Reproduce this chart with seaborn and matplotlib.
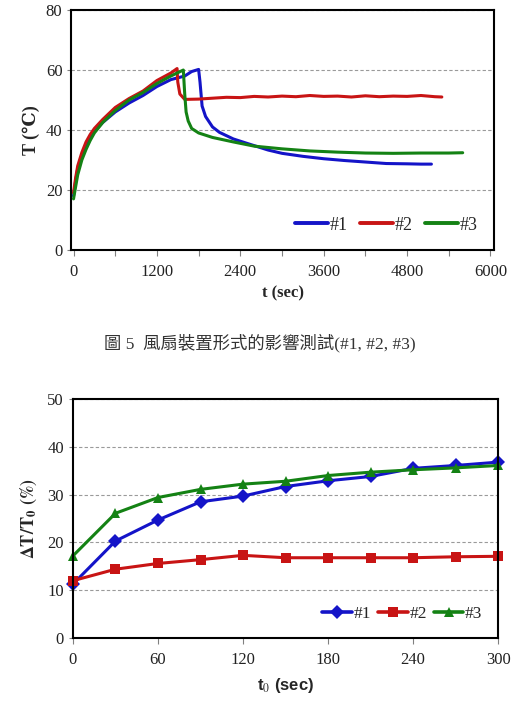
import numpy as np
import pandas as pd
import matplotlib
matplotlib.use("Agg")
import matplotlib.pyplot as plt
import seaborn as sns

# -----------------------------
# Data: top chart (temperature vs time)
# -----------------------------
t1 = [0, 30, 60, 120, 180, 240, 300, 420, 600, 800, 1000, 1200, 1400, 1600, 1700, 1800,
      1820, 1850, 1900, 2000, 2100, 2300, 2500, 2800, 3000, 3300, 3600, 3900, 4200, 4500, 4800, 5000, 5150]
T1 = [18, 23, 27, 31, 34.5, 37.5, 39.5, 42.5, 46, 49, 51.5, 54.5, 56.8, 58, 59.5, 60.2,
      56, 48, 44.5, 41, 39.2, 37, 35.5, 33.3, 32.2, 31.2, 30.4, 29.8, 29.3, 28.8, 28.7, 28.6, 28.6]

t2 = [0, 30, 60, 120, 180, 240, 300, 420, 600, 800, 1000, 1200, 1400, 1490, 1500, 1530, 1600,
      1800, 2000, 2200, 2400, 2600, 2800, 3000, 3200, 3400, 3600, 3800, 4000, 4200, 4400, 4600,
      4800, 5000, 5200, 5300]
T2 = [19, 24, 28, 32.5, 36, 38.5, 40.5, 43.5, 47.5, 50.5, 53, 56.5, 59, 60.5, 56, 52, 50.2,
      50.3, 50.6, 50.9, 50.8, 51.2, 51.0, 51.3, 51.1, 51.5, 51.2, 51.3, 51.0, 51.4, 51.1, 51.3,
      51.2, 51.5, 51.1, 51.0]

t3 = [0, 30, 60, 120, 180, 240, 300, 420, 600, 800, 1000, 1200, 1400, 1580, 1600, 1620, 1650,
      1700, 1800, 2000, 2300, 2600, 3000, 3400, 3800, 4200, 4600, 5000, 5400, 5600]
T3 = [17, 21, 25, 30, 33.5, 36.5, 39, 42.5, 46.5, 50, 52.5, 55.5, 58, 60, 52, 46, 43,
      40.5, 39, 37.5, 36, 34.6, 33.7, 33, 32.6, 32.3, 32.2, 32.3, 32.3, 32.4]

# -----------------------------
# Data: bottom chart (dT/T0 vs t0)
# -----------------------------
t0 = [0, 30, 60, 90, 120, 150, 180, 210, 240, 270, 300]
r1 = [11.3, 20.3, 24.7, 28.5, 29.7, 31.7, 32.9, 33.8, 35.5, 36.1, 36.8]
r2 = [12.0, 14.4, 15.6, 16.4, 17.3, 16.8, 16.8, 16.8, 16.8, 17.0, 17.1]
r3 = [17.2, 26.1, 29.4, 31.1, 32.2, 32.8, 34.0, 34.7, 35.2, 35.6, 36.1]

labels = ["#1", "#2", "#3"]
colors = {"#1": "#1414C8", "#2": "#C81414", "#3": "#148214"}

sns.set_theme(style="white")
plt.rcParams['font.family'] = ['Liberation Serif', 'DejaVu Serif', 'Noto Sans CJK TC']
plt.rcParams['mathtext.fontset'] = 'stix'

df_top = pd.concat([
    pd.DataFrame({"t": t1, "T": T1, "run": "#1"}),
    pd.DataFrame({"t": t2, "T": T2, "run": "#2"}),
    pd.DataFrame({"t": t3, "T": T3, "run": "#3"}),
])
df_bot = pd.concat([
    pd.DataFrame({"t0": t0, "r": r1, "run": "#1"}),
    pd.DataFrame({"t0": t0, "r": r2, "run": "#2"}),
    pd.DataFrame({"t0": t0, "r": r3, "run": "#3"}),
])

fig = plt.figure(figsize=(5.14, 7.22), dpi=100)
ax1 = fig.add_axes([0.139, 0.654, 0.822, 0.332])
ax2 = fig.add_axes([0.142, 0.1163, 0.827, 0.331])


def style_axes(ax):
    for s in ax.spines.values():
        s.set_color("black")
        s.set_linewidth(1.5)
    ax.yaxis.grid(True, linestyle=(0, (3, 2)), color="#9a9a9a", linewidth=0.8)
    ax.tick_params(axis="both", which="both", direction="out", colors="#808080",
                   labelcolor="#222222", labelsize=12)
    ax.tick_params(axis="x", which="both", length=4, width=0.8, pad=6, bottom=True)
    ax.tick_params(axis="y", length=3, width=0.8, left=True)


# -----------------------------
# Top chart
# -----------------------------
sns.lineplot(data=df_top, x="t", y="T", hue="run", palette=colors, linewidth=2.2,
             sort=False, estimator=None, ax=ax1)
ax1.set_xlim(-30, 6050)
ax1.set_ylim(0, 80)
ax1.set_xticks(np.arange(0, 6001, 1200))
ax1.set_xticks(np.arange(0, 6001, 600), minor=True)
ax1.set_yticks([0, 20, 40, 60, 80])
style_axes(ax1)
ax1.set_xlabel("t (sec)", fontsize=12, fontweight="bold", labelpad=4)
ax1.set_ylabel("T (℃)", fontsize=13, fontweight="bold", labelpad=4)
leg1 = ax1.legend(loc="lower right", ncol=3, frameon=False, fontsize=13, handlelength=1.8,
                  columnspacing=0.7, handletextpad=0.1, bbox_to_anchor=(1.0, 0.0))
for h in leg1.get_lines():
    h.set_linewidth(2.8)

fig.text(0.505, 0.525, "圖 5  風扇裝置形式的影響測試(#1, #2, #3)", ha="center", va="center",
         fontsize=12.5, color="#333333",
         family=['Liberation Serif', 'Noto Sans CJK TC'])

# -----------------------------
# Bottom chart
# -----------------------------
sns.lineplot(data=df_bot, x="t0", y="r", hue="run", style="run", palette=colors,
             markers={"#1": "D", "#2": "s", "#3": "^"}, dashes=False, linewidth=2.2,
             markersize=7, markeredgewidth=0, clip_on=False, ax=ax2)
ax2.set_xlim(0, 300)
ax2.set_ylim(0, 50)
ax2.set_xticks(np.arange(0, 301, 60))
ax2.set_yticks(np.arange(0, 51, 10))
style_axes(ax2)
ax2.set_xlabel("t$_0$ (sec)", fontsize=12, fontweight="bold", labelpad=6,
               family=['Liberation Sans'])
ax2.set_ylabel(r"$\mathbf{\Delta T/T_0}$ $\mathbf{(\%)}$", fontsize=13, labelpad=6)
leg2 = ax2.legend(loc="lower right", ncol=3, frameon=False, fontsize=12.5, handlelength=1.7,
                  columnspacing=0.4, handletextpad=0.1, bbox_to_anchor=(1.0, 0.0))
for h in leg2.get_lines():
    h.set_linewidth(2.6)

fig.savefig("out.png", dpi=100)
